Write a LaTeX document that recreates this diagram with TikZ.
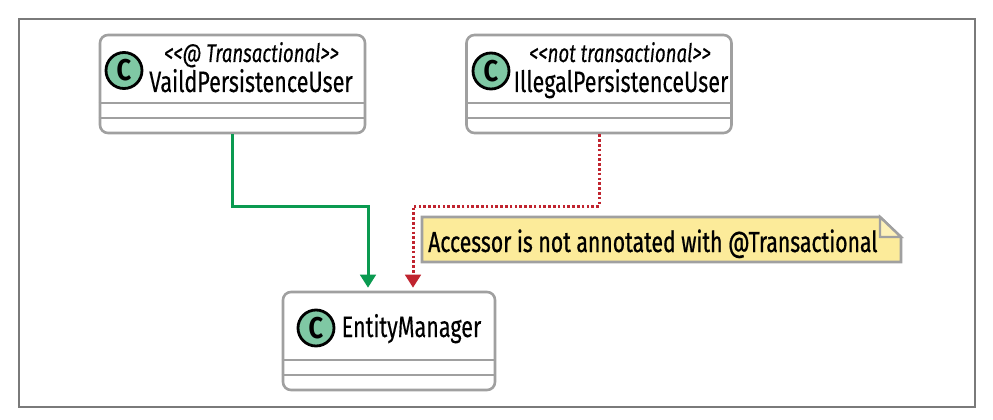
\documentclass[tikz,border=0pt]{standalone}
\usepackage{fontspec}
\setmainfont[FakeStretch=0.73,FakeBold=0.3]{Fira Sans}
\newfontfamily\notefont[FakeStretch=0.73,FakeBold=0.7]{Fira Sans}
\newfontfamily\badgefont[FakeStretch=0.85]{Fira Sans}
\usetikzlibrary{arrows.meta,calc}
\definecolor{boxgray}{HTML}{A0A0A0}
\definecolor{framegray}{HTML}{7A7A7A}
\definecolor{cfill}{HTML}{7FC8A4}
\definecolor{notefill}{HTML}{FCEB9A}
\definecolor{linegreen}{HTML}{0A9A50}
\definecolor{linered}{HTML}{C0242F}
\tikzset{
  x=1pt,y=-1pt,
  classbox/.style={draw=boxgray,line width=2.6pt,rounded corners=8pt,fill=white,inner sep=0pt},
  divider/.style={draw=boxgray,line width=2.4pt},
  cbadge/.style={circle,draw=black,line width=2.8pt,fill=cfill,minimum size=36pt,inner sep=0pt,font=\badgefont\fontsize{30}{30}\selectfont\bfseries},
  classname/.style={inner sep=0pt,anchor=base,font=\fontsize{29.5}{31}\selectfont,text=black},
  stereo/.style={inner sep=0pt,anchor=base,font=\fontsize{25.5}{27}\selectfont\itshape,text=black},
  notetext/.style={inner sep=0pt,anchor=base west,font=\notefont\fontsize{29}{31}\selectfont,text=black},
  greenarrow/.style={draw=linegreen,line width=3pt,-{Triangle[length=13pt,width=15.5pt]}},
  redarrow/.style={draw=linered,line width=3pt,dash pattern=on 2.6pt off 2.2pt,-{Triangle[length=13pt,width=15.5pt]}},
}
\begin{document}
\begin{tikzpicture}
\useasboundingbox (0,0) rectangle (993,420);
\fill[white] (0,0) rectangle (993,420);
\draw[framegray,line width=1.8pt] (19,19) rectangle (975,407);

\node[classbox,minimum width=265pt,minimum height=98pt] (box1) at (232.5,84) {};
\draw[divider] (box1.west |- 0,103) -- (box1.east |- 0,103);
\draw[divider] (box1.west |- 0,118) -- (box1.east |- 0,118);
\node[cbadge] (c1) at (124,70.5) {C};
\node[stereo] (s1) at (251.5,62) {{<}{<}@ Transactional{>}{>}};
\node[classname] (n1) at (251,92) {VaildPersistenceUser};

\node[classbox,minimum width=265pt,minimum height=98pt] (box2) at (599,84) {};
\draw[divider] (box2.west |- 0,103) -- (box2.east |- 0,103);
\draw[divider] (box2.west |- 0,118) -- (box2.east |- 0,118);
\node[cbadge] (c2) at (491,71) {C};
\node[stereo] (s2) at (620,62) {{<}{<}not transactional{>}{>}};
\node[classname] (n2) at (621,92) {IllegalPersistenceUser};

\node[classbox,minimum width=212pt,minimum height=98pt] (box3) at (389,341) {};
\draw[divider] (box3.west |- 0,360) -- (box3.east |- 0,360);
\draw[divider] (box3.west |- 0,375) -- (box3.east |- 0,375);
\node[cbadge] (c3) at (316,328) {C};
\node[classname] (n3) at (411.5,337) {EntityManager};

\draw[draw=boxgray,line width=2.6pt,fill=notefill,line join=miter]
  (422,217) -- (880,217) -- (901,237) -- (901,262) -- (422,262) -- cycle;
\draw[draw=boxgray,line width=2.4pt,fill=notefill!70!white] (880,217) -- (880,237) -- (901,237) -- cycle;
\node[notetext] (note) at (428,252) {Accessor is not annotated with @Transactional};

\coordinate (bend1) at (368,206);
\coordinate (bend2) at (413,206);
\draw[greenarrow,shorten >=3pt] (box1.south) |- (bend1) -- (bend1 |- box3.north);
\draw[redarrow,shorten >=3pt] (box2.south) |- (bend2) -- (bend2 |- box3.north);
\end{tikzpicture}
\end{document}
